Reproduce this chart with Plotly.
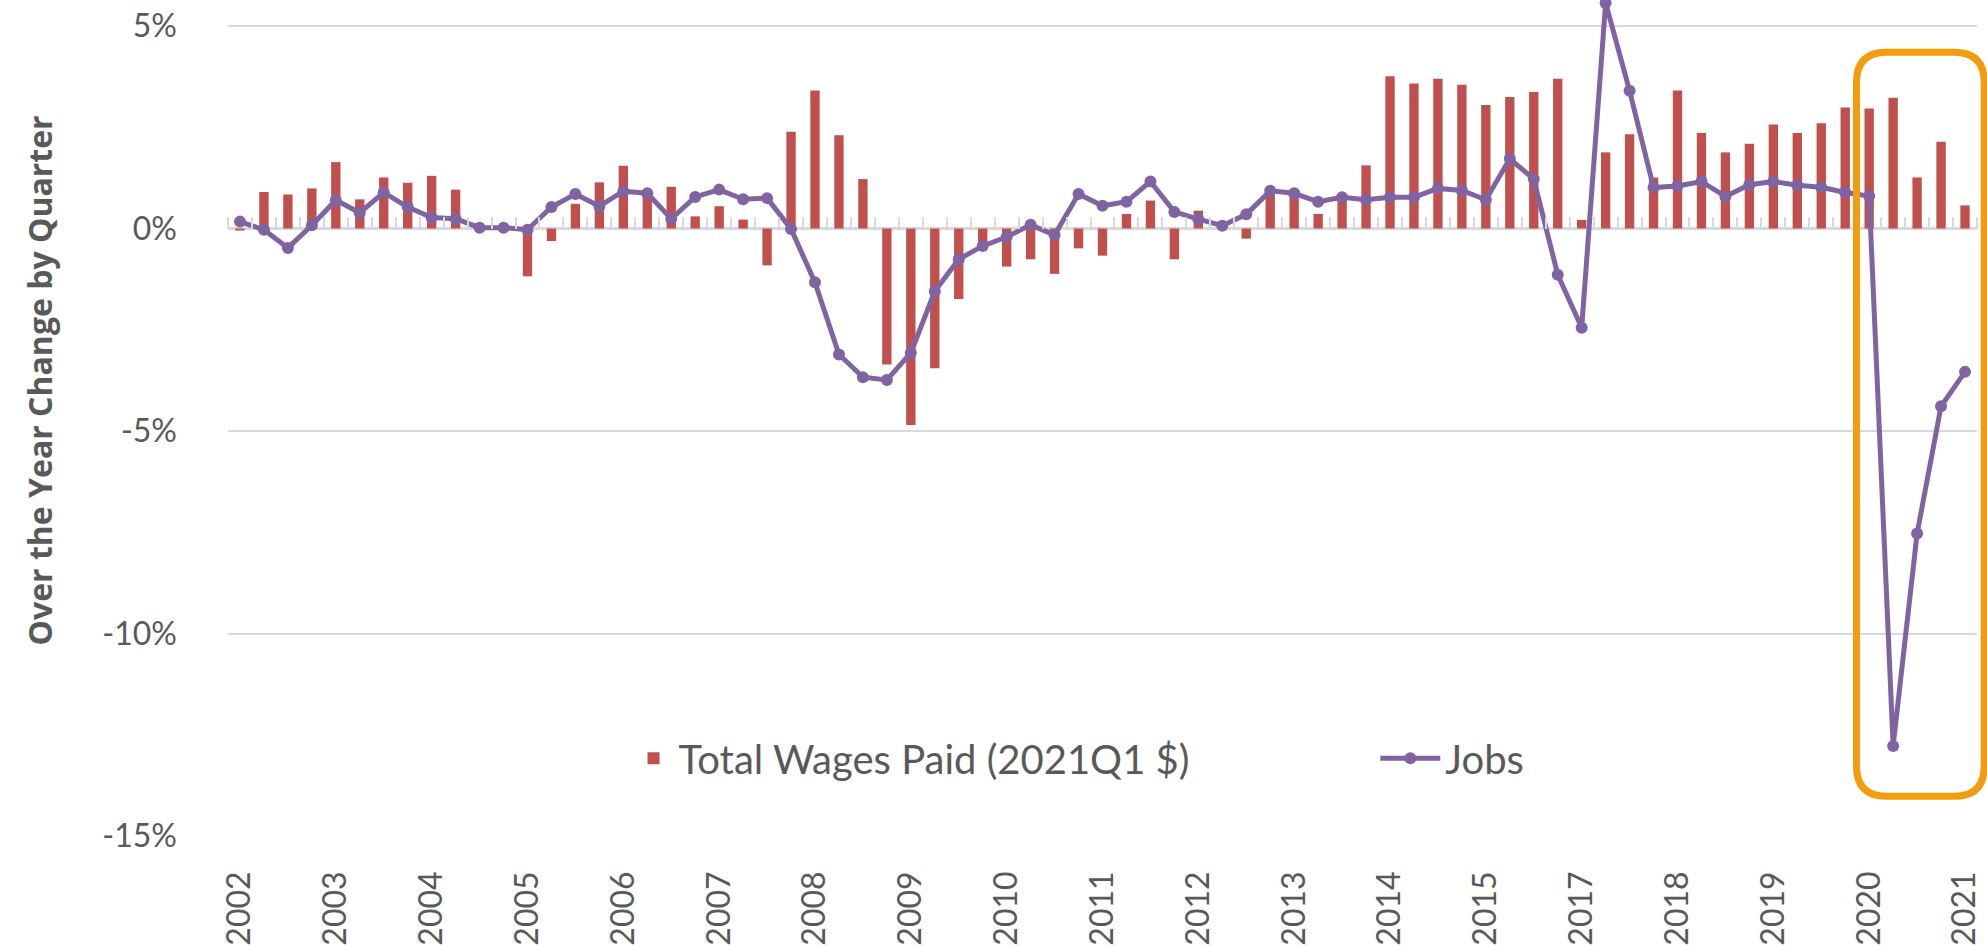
"""
Over-the-year change by quarter: total wages paid vs jobs.
Bars = wages (2021Q1 $), line = jobs. 2016 is absent from the source table.
"""

import plotly.graph_objects as go


# ═══════════════════════════════════════════════════════════
#  DATA
# ═══════════════════════════════════════════════════════════

YEARS = [2002, 2003, 2004, 2005, 2006, 2007, 2008, 2009, 2010, 2011,
         2012, 2013, 2014, 2015, 2017, 2018, 2019, 2020, 2021]

QUARTERS = [f"{y}Q{q}" for y in YEARS for q in range(1, 5)
            if not (y == 2021 and q > 1)]

WAGES = [
    -0.05, 0.90, 0.84, 0.99,     # 2002
    1.64, 0.72, 1.26, 1.13,      # 2003
    1.30, 0.96, 0.02, 0.01,      # 2004
    -1.18, -0.31, 0.61, 1.14,    # 2005
    1.55, 0.92, 1.03, 0.30,      # 2006
    0.55, 0.22, -0.91, 2.39,     # 2007
    3.41, 2.30, 1.22, -3.36,     # 2008
    -4.85, -3.45, -1.74, -0.48,  # 2009
    -0.94, -0.76, -1.12, -0.49,  # 2010
    -0.67, 0.36, 0.69, -0.76,    # 2011
    0.44, 0.05, -0.25, 0.85,     # 2012
    0.79, 0.36, 0.71, 1.56,      # 2013
    3.76, 3.58, 3.70, 3.55,      # 2014
    3.05, 3.25, 3.37, 3.70,      # 2015
    0.21, 1.88, 2.33, 1.26,      # 2017
    3.41, 2.36, 1.88, 2.09,      # 2018
    2.57, 2.36, 2.60, 2.99,      # 2019
    2.96, 3.23, 1.26, 2.14,      # 2020
    0.57,                        # 2021
]

JOBS = [
    0.17, -0.03, -0.48, 0.08,
    0.70, 0.39, 0.89, 0.53,
    0.27, 0.24, 0.02, 0.02,
    -0.03, 0.53, 0.85, 0.55,
    0.92, 0.87, 0.24, 0.78,
    0.96, 0.72, 0.75, -0.01,
    -1.33, -3.11, -3.67, -3.74,
    -3.07, -1.55, -0.76, -0.43,
    -0.21, 0.09, -0.16, 0.85,
    0.56, 0.66, 1.16, 0.41,
    0.23, 0.07, 0.35, 0.93,
    0.87, 0.66, 0.77, 0.71,
    0.77, 0.77, 0.99, 0.94,
    0.71, 1.72, 1.22, -1.14,
    -2.45, 5.57, 3.40, 1.01,
    1.05, 1.16, 0.79, 1.08,
    1.16, 1.07, 1.02, 0.89,
    0.80, -12.78, -7.53, -4.39,
    -3.54,
]

Y_TICKS = [-15, -10, -5, 0, 5]
Y_LABELS = ["-15%", "-10%", "-5%", "0%", "5%"]

# highlight box around the pandemic quarters (data units)
BOX_X = (67.47, 72.8)
BOX_Y = (-14.02, 4.35)


# ═══════════════════════════════════════════════════════════
#  STYLE
# ═══════════════════════════════════════════════════════════

COLORS = {
    "wages": "#C0504D",
    "jobs": "#8064A2",
    "box": "#F39C0E",
    "grid": "#D9D9D9",
    "text": "#595959",
}

TICK_FONT = dict(family="Lato, sans-serif", size=32, color=COLORS["text"])
LEGEND_FONT = dict(family="Lato, sans-serif", size=40, color=COLORS["text"])
Y_RANGE = [-15, 5.642]


def build_figure() -> go.Figure:
    x = list(range(len(QUARTERS)))
    x_range = [-0.5, len(QUARTERS) - 0.5]
    year_pos = [i for i, q in enumerate(QUARTERS) if q.endswith("Q1")]
    year_txt = [QUARTERS[i][:4] for i in year_pos]

    fig = go.Figure()
    fig.add_trace(go.Bar(
        x=x, y=WAGES, width=0.39,
        name="Total Wages Paid (2021Q1 $)", legend="legend",
        marker=dict(color=COLORS["wages"], line_width=0),
        customdata=QUARTERS, hovertemplate="%{customdata}: %{y:.2f}%<extra></extra>",
    ))
    fig.add_trace(go.Scatter(
        x=x, y=JOBS, mode="lines+markers", name="Jobs", legend="legend2",
        line=dict(color=COLORS["jobs"], width=5),
        marker=dict(color=COLORS["jobs"], size=12),
        cliponaxis=False,
        customdata=QUARTERS, hovertemplate="%{customdata}: %{y:.2f}%<extra></extra>",
    ))
    # carrier for the tick axis sitting on the zero line
    fig.add_trace(go.Scatter(x=[], y=[], xaxis="x2", showlegend=False, hoverinfo="skip"))

    # rounded highlight box, paper coords so the right edge is not clipped
    span_y = Y_RANGE[1] - Y_RANGE[0]
    px0 = (BOX_X[0] - x_range[0]) / len(QUARTERS)
    px1 = (BOX_X[1] - x_range[0]) / len(QUARTERS)
    py0 = (BOX_Y[0] - Y_RANGE[0]) / span_y
    py1 = (BOX_Y[1] - Y_RANGE[0]) / span_y
    rx, ry = 30 / 1749, 30 / 836
    path = (f"M {px0 + rx},{py1} L {px1 - rx},{py1} Q {px1},{py1} {px1},{py1 - ry} "
            f"L {px1},{py0 + ry} Q {px1},{py0} {px1 - rx},{py0} "
            f"L {px0 + rx},{py0} Q {px0},{py0} {px0},{py0 + ry} "
            f"L {px0},{py1 - ry} Q {px0},{py1} {px0 + rx},{py1} Z")
    fig.add_shape(type="path", path=path, xref="paper", yref="paper",
                  line=dict(color=COLORS["box"], width=7), layer="above")

    fig.add_annotation(
        text="<b>Over the Year Change by Quarter</b>", textangle=-90,
        xref="paper", yref="paper", x=-0.108, y=0.545,
        xanchor="center", yanchor="middle", showarrow=False,
        font=dict(family="Open Sans, sans-serif", size=32, color=COLORS["text"]),
    )

    fig.update_layout(
        width=1987, height=945,
        margin=dict(l=228, r=10, t=0, b=109),
        plot_bgcolor="white", paper_bgcolor="white",
        showlegend=True,
        legend=dict(
            orientation="h", x=0.229, y=0.093, xanchor="left", yanchor="middle",
            font=LEGEND_FONT, bgcolor="rgba(0,0,0,0)", itemwidth=40,
        ),
        legend2=dict(
            orientation="h", x=0.656, y=0.093, xanchor="left", yanchor="middle",
            font=LEGEND_FONT, bgcolor="rgba(0,0,0,0)", itemwidth=60,
        ),
        xaxis=dict(
            range=x_range, tickvals=year_pos, ticktext=year_txt, tickangle=-90,
            tickfont=TICK_FONT, showgrid=False, zeroline=False, showline=False,
            ticks="", ticklabelstandoff=28,
        ),
        xaxis2=dict(
            overlaying="x", anchor="free", position=(0 - Y_RANGE[0]) / span_y,
            side="top", range=x_range,
            tickvals=[i - 0.5 for i in range(len(QUARTERS) + 1)],
            ticks="outside", ticklen=12, tickwidth=2, tickcolor=COLORS["grid"],
            showticklabels=False, showgrid=False, zeroline=False, showline=False,
        ),
        yaxis=dict(
            range=Y_RANGE, tickvals=Y_TICKS, ticktext=Y_LABELS, tickfont=TICK_FONT,
            showgrid=True, gridcolor=COLORS["grid"], gridwidth=1.5,
            zeroline=True, zerolinecolor=COLORS["grid"], zerolinewidth=2.5,
            showline=False, ticks="", ticklabelstandoff=50,
        ),
    )
    return fig


if __name__ == "__main__":
    fig = build_figure()
    fig.write_html(
        "out.html",
        config={"displayModeBar": False},
        post_script="document.body.style.margin='0';document.body.style.overflow='hidden';",
    )
